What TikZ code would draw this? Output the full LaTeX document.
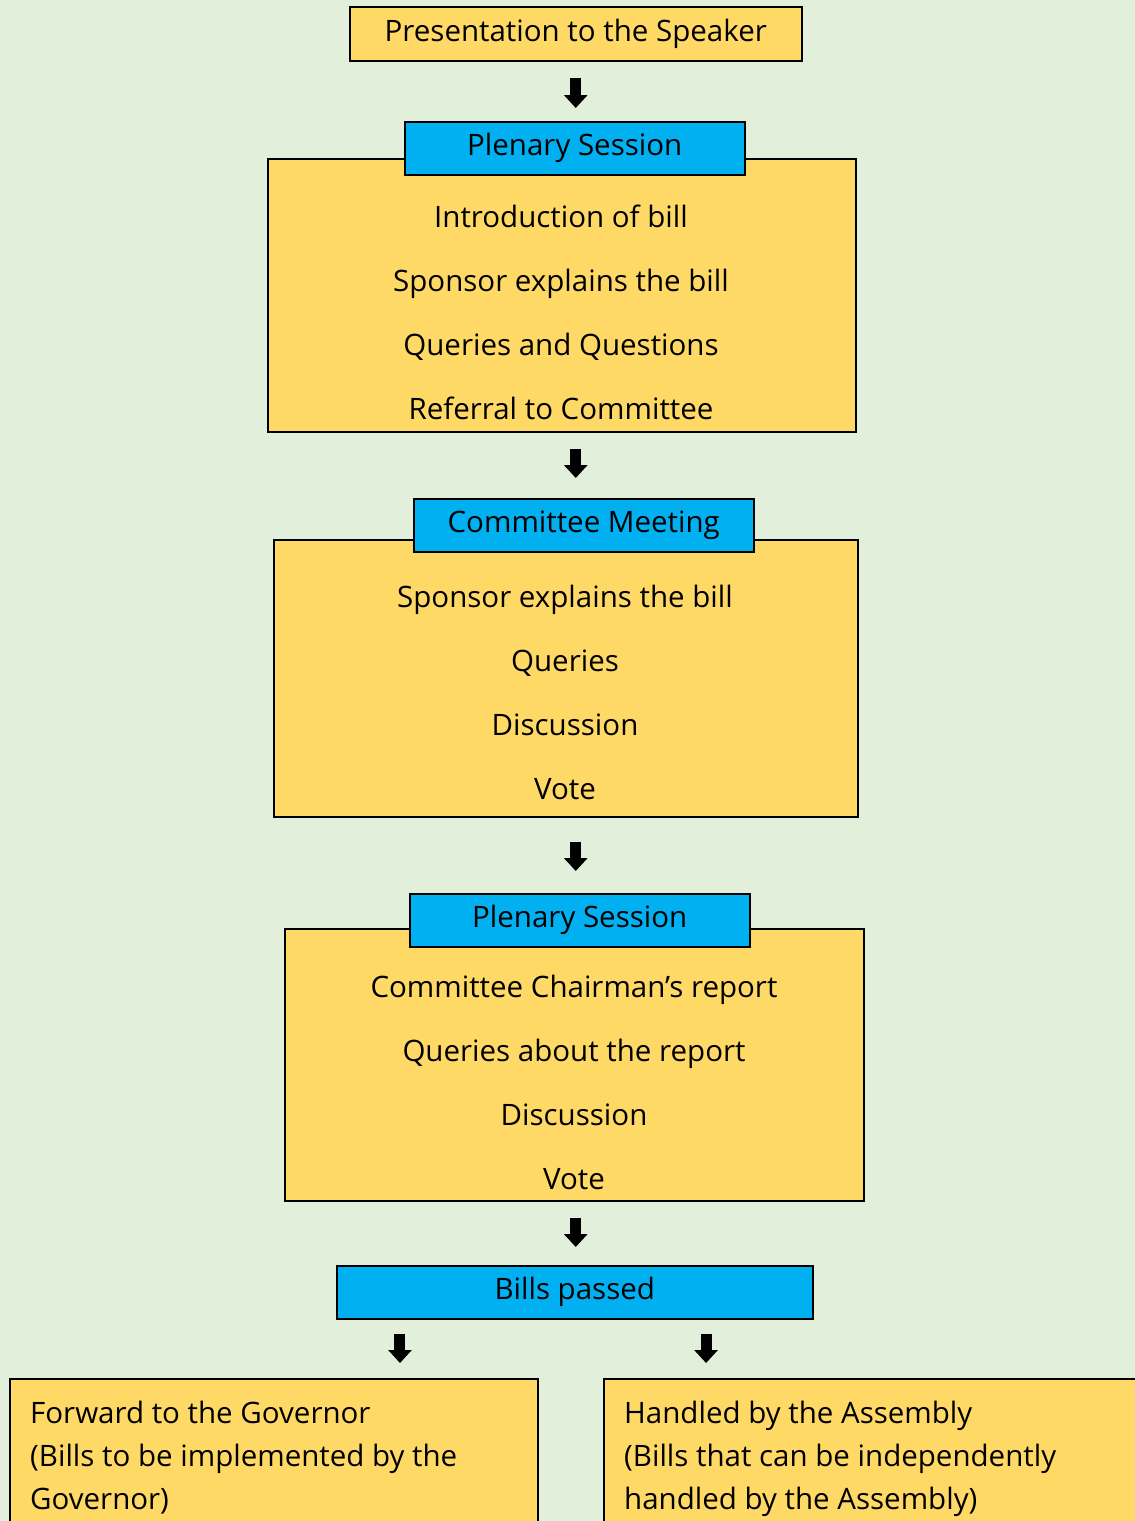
\documentclass[tikz,border=0pt]{standalone}
\usepackage{fontspec}
\setmainfont{Open Sans}
\usetikzlibrary{arrows.meta,calc}
\definecolor{bggreen}{HTML}{E2EFDA}
\definecolor{boxyellow}{HTML}{FFD966}
\definecolor{headblue}{HTML}{00B0F0}
\tikzset{
	ybox/.style={draw=black, line width=1.5pt, fill=boxyellow, inner sep=0pt, anchor=north west},
	hbox/.style={draw=black, line width=1.5pt, fill=headblue, inner sep=0pt, anchor=north west},
	item/.style={anchor=base, inner sep=0pt},
	blk/.style={line width=11pt, -{Triangle[width=23pt,length=13pt]}, draw=black}
}

\begin{document}
\begin{tikzpicture}[x=1pt, y=-1pt, font=\fontsize{29.5}{43}\selectfont]
		%%%%% START %%%%%
		\useasboundingbox (0,0) rectangle (1135,1521);
		\clip (0,0) rectangle (1135,1521);
		\fill[bggreen] (0,0) rectangle (1135,1521);
		
		\node[ybox, minimum width=452pt, minimum height=54pt] (speaker) at (349,6) {Presentation to the Speaker};
		
		\node[ybox, minimum width=588pt, minimum height=273pt] (plen1) at (267,158) {};
		\node[hbox, minimum width=340pt, minimum height=53pt] (head1) at (404,121) {Plenary Session};
		\node[item] (p1a) at (561,227) {Introduction of bill};
		\node[item] (p1b) at (561,291) {Sponsor explains the bill};
		\node[item] (p1c) at (561,355) {Queries and Questions};
		\node[item] (p1d) at (561,419) {Referral to Committee};
		
		\node[ybox, minimum width=584pt, minimum height=277pt] (comm) at (273,539) {};
		\node[hbox, minimum width=340pt, minimum height=53pt] (head2) at (413,498) {Committee Meeting};
		\node[item] (c1) at (565,607) {Sponsor explains the bill};
		\node[item] (c2) at (565,671) {Queries};
		\node[item] (c3) at (565,735) {Discussion};
		\node[item] (c4) at (565,799) {Vote};
		
		\node[ybox, minimum width=579pt, minimum height=272pt] (plen2) at (284,928) {};
		\node[hbox, minimum width=340pt, minimum height=53pt] (head3) at (409,893) {Plenary Session};
		\node[item] (p2a) at (574,997) {Committee Chairman’s report};
		\node[item] (p2b) at (574,1061) {Queries about the report};
		\node[item] (p2c) at (574,1125) {Discussion};
		\node[item] (p2d) at (574,1189) {Vote};
		
		\node[hbox, minimum width=476pt, minimum height=53pt] (bills) at (336,1265) {Bills passed};
		
		\node[ybox, minimum width=528pt, minimum height=200pt] (gov) at (9,1378) {};
		\node[anchor=north west, inner sep=0pt, align=left] (govtxt) at (30,1401) {Forward to the Governor\\(Bills to be implemented by the\\Governor)};
		\node[ybox, minimum width=560pt, minimum height=200pt] (asm) at (603,1378) {};
		\node[anchor=north west, inner sep=0pt, align=left] (asmtxt) at (624,1401) {Handled by the Assembly\\(Bills that can be independently\\handled by the Assembly)};
		
		% arrows
		\draw[blk, shorten <=16pt, shorten >=13pt] (speaker.south) -- (speaker.south |- head1.north);
		\draw[blk, shorten <=16pt, shorten >=20pt] (speaker.south |- plen1.south) -- (speaker.south |- head2.north);
		\draw[blk, shorten <=24pt, shorten >=22pt] (speaker.south |- comm.south) -- (speaker.south |- head3.north);
		\draw[blk, shorten <=16pt, shorten >=18pt] (speaker.south |- plen2.south) -- (speaker.south |- bills.north);
		\coordinate (toGov) at ($(bills.south west)!0.134!(bills.south east)$);
		\coordinate (toAsm) at ($(bills.south west)!0.775!(bills.south east)$);
		\draw[blk, shorten <=14pt, shorten >=15pt] (toGov) -- (toGov |- gov.north);
		\draw[blk, shorten <=14pt, shorten >=15pt] (toAsm) -- (toAsm |- asm.north);
		%%%%% END %%%%%
	\end{tikzpicture}
\end{document}
